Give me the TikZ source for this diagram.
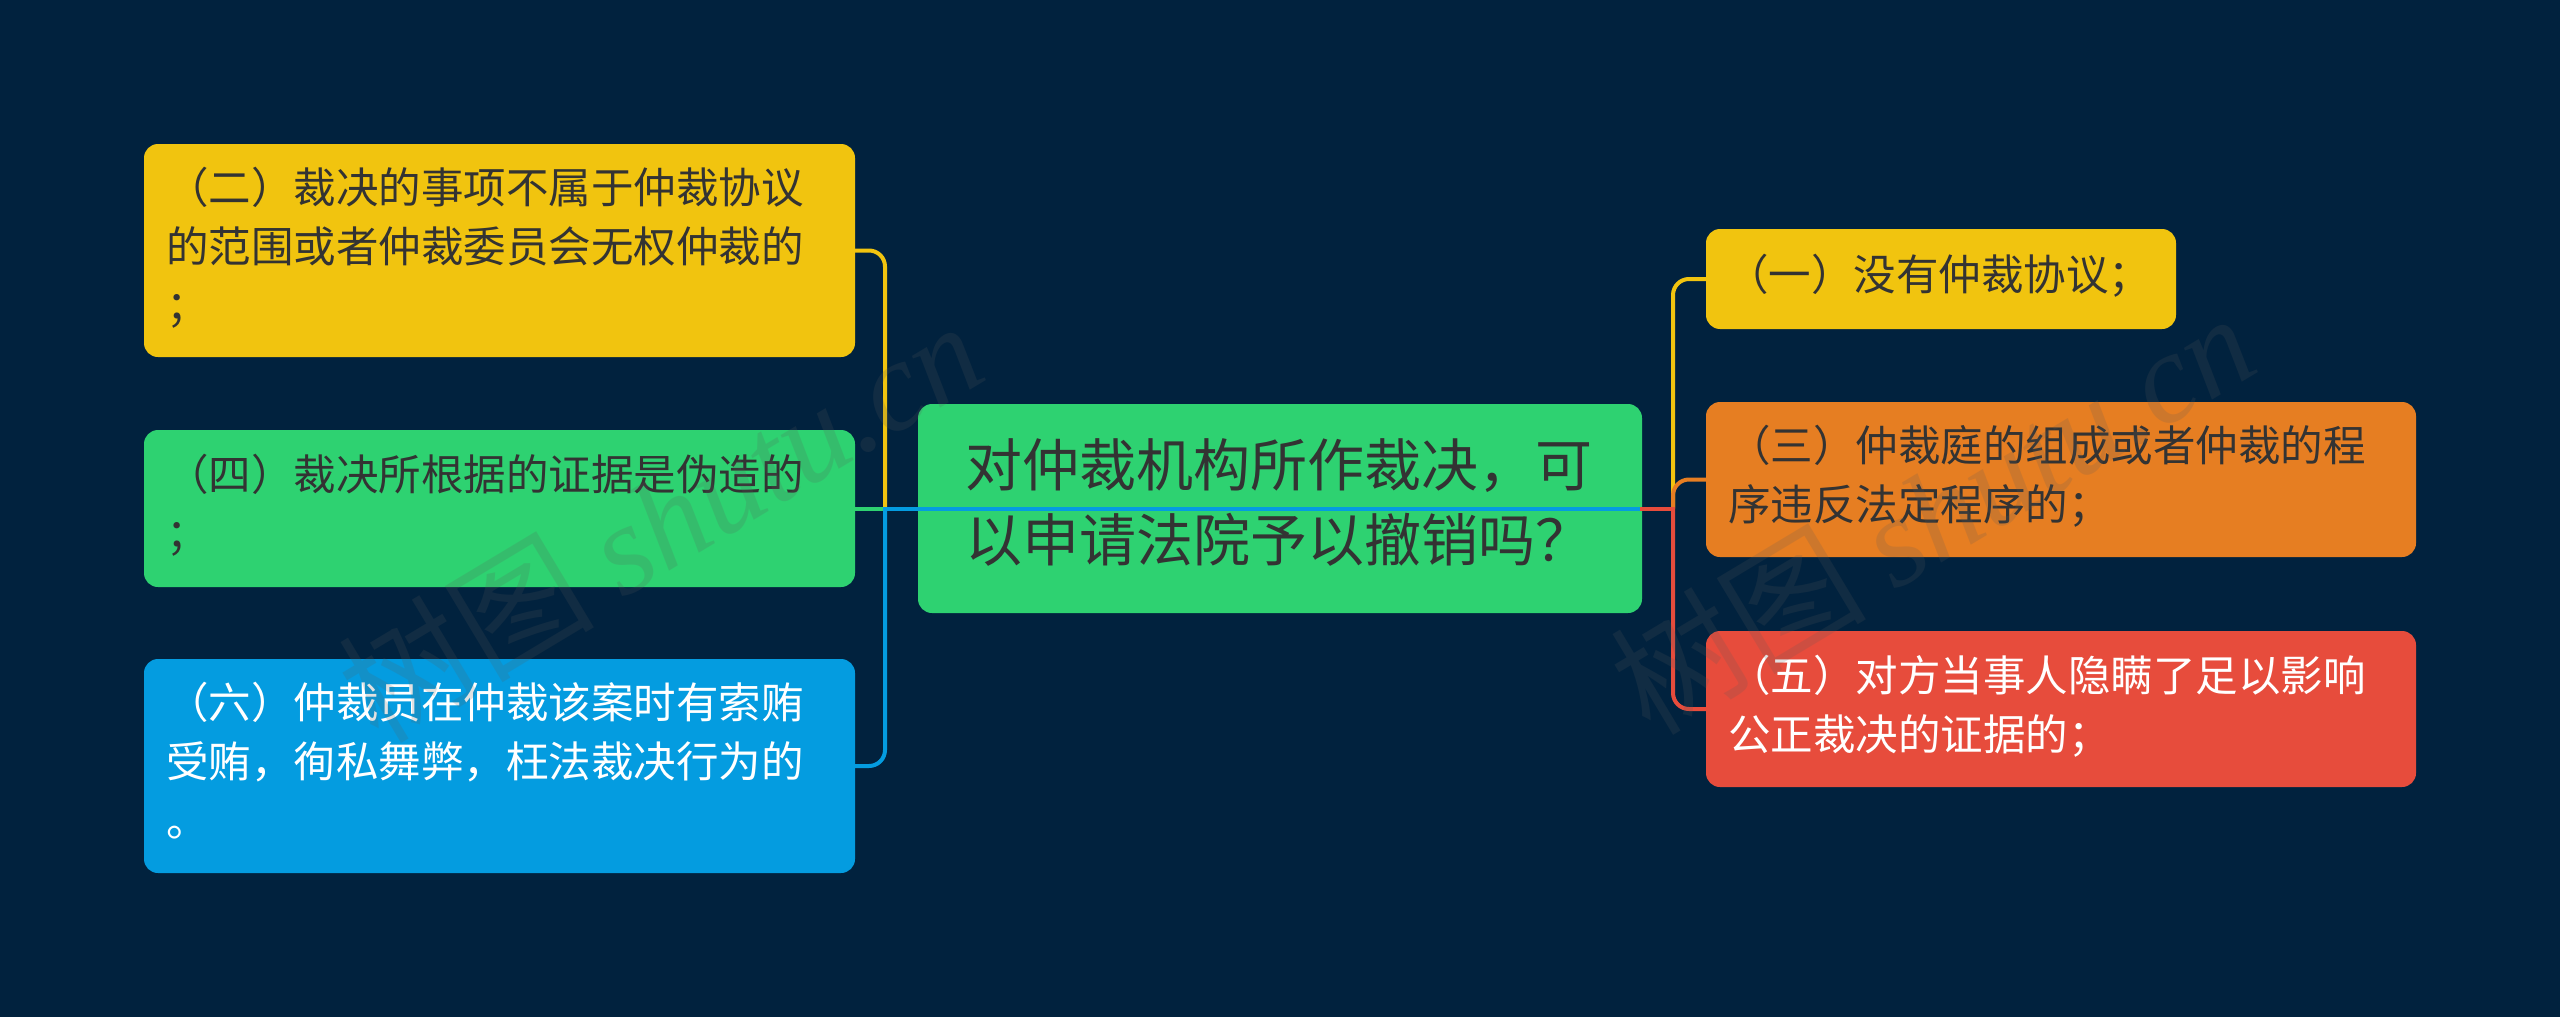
\documentclass[tikz,border=0pt]{standalone}
\usepackage{fontspec}
\setmainfont{Noto Sans CJK SC}
\newfontfamily\cjk{Noto Sans CJK SC}
\newfontfamily\wmserif{Liberation Serif}
\usetikzlibrary{calc}
\definecolor{bg}{HTML}{01223E}
\definecolor{ycol}{HTML}{F1C40F}
\definecolor{gcol}{HTML}{2ED271}
\definecolor{bcol}{HTML}{049CE0}
\definecolor{ocol}{HTML}{E67E22}
\definecolor{rcol}{HTML}{E74C3C}
\definecolor{dtext}{HTML}{333333}
\definecolor{wmcol}{HTML}{5A5A5A}
\begin{document}
\begin{tikzpicture}[x=1pt,y=-1pt,
  box/.style={rounded corners=14pt, anchor=center, inner xsep=22pt, inner ysep=0pt,
    align=left, font=\fontsize{42.5}{59}\selectfont},
  leftbox/.style={box, minimum width=711pt, text width=667pt},
  rightbox/.style={box, minimum width=710pt, text width=666pt},
  centerbox/.style={rounded corners=14pt, anchor=center, inner xsep=47pt, inner ysep=0pt,
    align=left, font=\fontsize{57}{75}\selectfont, minimum width=724pt, text width=630pt},
  conn/.style={line width=4pt},
  hconn/.style={line width=4pt, line cap=rect},
  rconn/.style={line width=4pt, rounded corners=16pt},
  wmark/.style={rotate=31, text=wmcol, opacity=0.18, inner sep=0pt}]

\fill[bg] (0,0) rectangle (2560,1017);
\useasboundingbox (0,0) rectangle (2560,1017);

% central node
\node[centerbox, fill=gcol, text=dtext, minimum height=209pt] (ctr) at (1280,508.5)
  {\strut 对仲裁机构所作裁决，可\\以申请法院予以撤销吗？\strut};

% trunk coordinates
\coordinate (tL) at (885,508.5);
\coordinate (tR) at (1673,508.5);

% left nodes
\node[leftbox, fill=ycol, text=dtext, minimum height=213pt] (n2) at (499.5,250.5)
  {\strut（二）裁决的事项不属于仲裁协议\\的范围或者仲裁委员会无权仲裁的\\；\strut};
\node[leftbox, fill=gcol, text=dtext, minimum height=157pt] (n4) at (499.5,508.5)
  {\strut（四）裁决所根据的证据是伪造的\\；\strut};
\node[leftbox, fill=bcol, text=white, minimum height=214pt] (n6) at (499.5,766)
  {\strut（六）仲裁员在仲裁该案时有索贿\\受贿，徇私舞弊，枉法裁决行为的\\。\strut};

% right nodes
\node[box, fill=ycol, text=dtext, minimum width=470pt, text width=430pt, inner xsep=20pt,
  minimum height=100pt] (n1) at (1941,279)
  {\strut（一）没有仲裁协议；\strut};
\node[rightbox, fill=ocol, text=dtext, minimum height=155pt] (n3) at (2061,479.5)
  {\strut（三）仲裁庭的组成或者仲裁的程\\序违反法定程序的；\strut};
\node[rightbox, fill=rcol, text=white, minimum height=156pt] (n5) at (2061,709)
  {\strut（五）对方当事人隐瞒了足以影响\\公正裁决的证据的；\strut};

% left connectors
\draw[hconn, ycol] (ctr.east) -- (ctr.east -| tL);
\draw[rconn, ycol] (ctr.east -| tL) |- (n2.east);
\draw[hconn, gcol] (n4.east) -- (ctr.east);
\draw[hconn, bcol] (ctr.east) -- (ctr.east -| tL);
\draw[rconn, bcol] (ctr.east -| tL) |- (n6.east);

% right connectors
\draw[hconn, ycol] (ctr.east) -- (ctr.east -| tR);
\draw[rconn, ycol] (ctr.east -| tR) |- (n1.west);
\draw[hconn, ocol] (ctr.east) -- (ctr.east -| tR);
\draw[rconn, ocol] (ctr.east -| tR) |- (n3.west);
\draw[hconn, rcol] (ctr.east) -- (ctr.east -| tR);
\draw[rconn, rcol] (ctr.east -| tR) |- (n5.west);

% watermarks
\node[wmark] (wm1) at (660,520) {\fontsize{128}{128}\selectfont\cjk 树图 \wmserif\itshape shutu.cn};
\node[wmark] (wm2) at (1932,512) {\fontsize{128}{128}\selectfont\cjk 树图 \wmserif\itshape shutu.cn};
\end{tikzpicture}
\end{document}
